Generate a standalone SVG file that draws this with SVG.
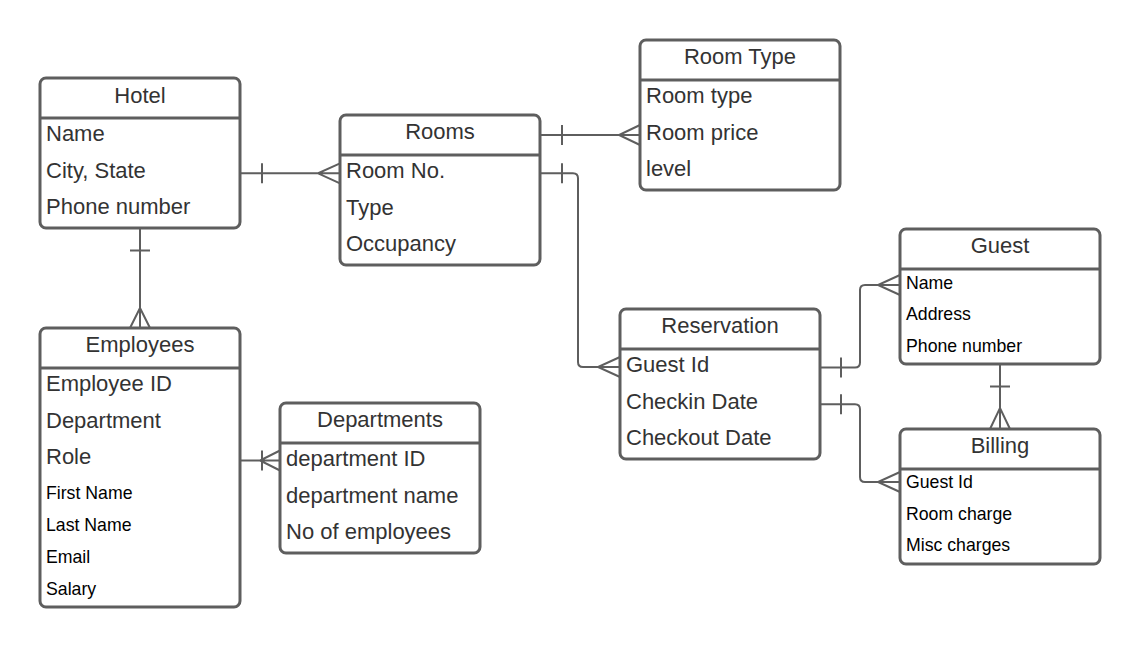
<svg xmlns="http://www.w3.org/2000/svg" width="1140" height="648" viewBox="0 0 1140 648">
<style>
.box{fill:#fff;stroke:#5e5e5e;stroke-width:3}
.div{stroke:#5e5e5e;stroke-width:3;fill:none}
.hd{font-family:"Liberation Sans",Arial,sans-serif;font-size:22px;fill:#333;text-anchor:middle}
.t{font-family:"Liberation Sans",Arial,sans-serif;font-size:22px;fill:#333}
.s{font-family:"Liberation Sans",Arial,sans-serif;font-size:17.7px;fill:#000}
.c{stroke:#5e5e5e;stroke-width:2;fill:none}
</style>
<rect width="1140" height="648" fill="#fff"/>
<g id="connectors">
  <path class="c" d="M240,173.3 H340 M262,163.3 V183.3 M340,163.3 L318,173.3 L340,183.3"/>
  <path class="c" d="M540,135 H640 M562,125 V145 M640,125 L619,135 L640,145"/>
  <path class="c" d="M540,173.3 H573 Q578,173.3 578,178.3 V362 Q578,367 583,367 H620 M562,163.3 V183.3 M620,357 L598,367 L620,377"/>
  <path class="c" d="M140,228 V328 M130,250.5 H150 M130,328 L140,308 L150,328"/>
  <path class="c" d="M240,460.5 H280 M262,450.5 V470.5 M280,450.5 L260,460.5 L280,470.5"/>
  <path class="c" d="M820,367.5 H855 Q860,367.5 860,362.5 V290 Q860,285 865,285 H900 M841,357.5 V377.5 M900,275 L878,285 L900,295"/>
  <path class="c" d="M820,404.3 H855 Q860,404.3 860,409.3 V477 Q860,482 865,482 H900 M841,394.3 V414.3 M900,472 L878,482 L900,492"/>
  <path class="c" d="M1000,364 V429 M990,386.5 H1010 M990,429 L1000,408 L1010,429"/>
</g>
<g id="hotel">
  <rect class="box" x="40" y="78" width="200" height="150" rx="6"/>
  <line class="div" x1="40" y1="118" x2="240" y2="118"/>
  <text class="hd" x="140" y="102.5">Hotel</text>
  <text class="t" x="46" y="141">Name</text>
  <text class="t" x="46" y="177.5">City, State</text>
  <text class="t" x="46" y="214">Phone number</text>
</g>
<g id="rooms">
  <rect class="box" x="340" y="115" width="200" height="150" rx="6"/>
  <line class="div" x1="340" y1="155" x2="540" y2="155"/>
  <text class="hd" x="440" y="139">Rooms</text>
  <text class="t" x="346" y="178">Room No.</text>
  <text class="t" x="346" y="214.5">Type</text>
  <text class="t" x="346" y="251">Occupancy</text>
</g>
<g id="roomtype">
  <rect class="box" x="640" y="40" width="200" height="150" rx="6"/>
  <line class="div" x1="640" y1="80" x2="840" y2="80"/>
  <text class="hd" x="740" y="64">Room Type</text>
  <text class="t" x="646" y="103">Room type</text>
  <text class="t" x="646" y="139.5">Room price</text>
  <text class="t" x="646" y="176">level</text>
</g>
<g id="employees">
  <rect class="box" x="40" y="328" width="200" height="279" rx="6"/>
  <line class="div" x1="40" y1="368" x2="240" y2="368"/>
  <text class="hd" x="140" y="352">Employees</text>
  <text class="t" x="46" y="391">Employee ID</text>
  <text class="t" x="46" y="427.5">Department</text>
  <text class="t" x="46" y="464">Role</text>
  <text class="s" x="46" y="498.5">First Name</text>
  <text class="s" x="46" y="530.5">Last Name</text>
  <text class="s" x="46" y="562.5">Email</text>
  <text class="s" x="46" y="594.5">Salary</text>
</g>
<g id="departments">
  <rect class="box" x="280" y="403" width="200" height="150" rx="6"/>
  <line class="div" x1="280" y1="443" x2="480" y2="443"/>
  <text class="hd" x="380" y="427">Departments</text>
  <text class="t" x="286" y="466">department ID</text>
  <text class="t" x="286" y="502.5">department name</text>
  <text class="t" x="286" y="539">No of employees</text>
</g>
<g id="reservation">
  <rect class="box" x="620" y="309" width="200" height="150" rx="6"/>
  <line class="div" x1="620" y1="349" x2="820" y2="349"/>
  <text class="hd" x="720" y="333">Reservation</text>
  <text class="t" x="626" y="372">Guest Id</text>
  <text class="t" x="626" y="408.5">Checkin Date</text>
  <text class="t" x="626" y="445">Checkout Date</text>
</g>
<g id="guest">
  <rect class="box" x="900" y="229" width="200" height="135" rx="6"/>
  <line class="div" x1="900" y1="269" x2="1100" y2="269"/>
  <text class="hd" x="1000" y="253">Guest</text>
  <text class="s" x="906" y="288.5">Name</text>
  <text class="s" x="906" y="320">Address</text>
  <text class="s" x="906" y="351.5">Phone number</text>
</g>
<g id="billing">
  <rect class="box" x="900" y="429" width="200" height="135" rx="6"/>
  <line class="div" x1="900" y1="469" x2="1100" y2="469"/>
  <text class="hd" x="1000" y="453">Billing</text>
  <text class="s" x="906" y="488">Guest Id</text>
  <text class="s" x="906" y="519.5">Room charge</text>
  <text class="s" x="906" y="551">Misc charges</text>
</g>
</svg>
